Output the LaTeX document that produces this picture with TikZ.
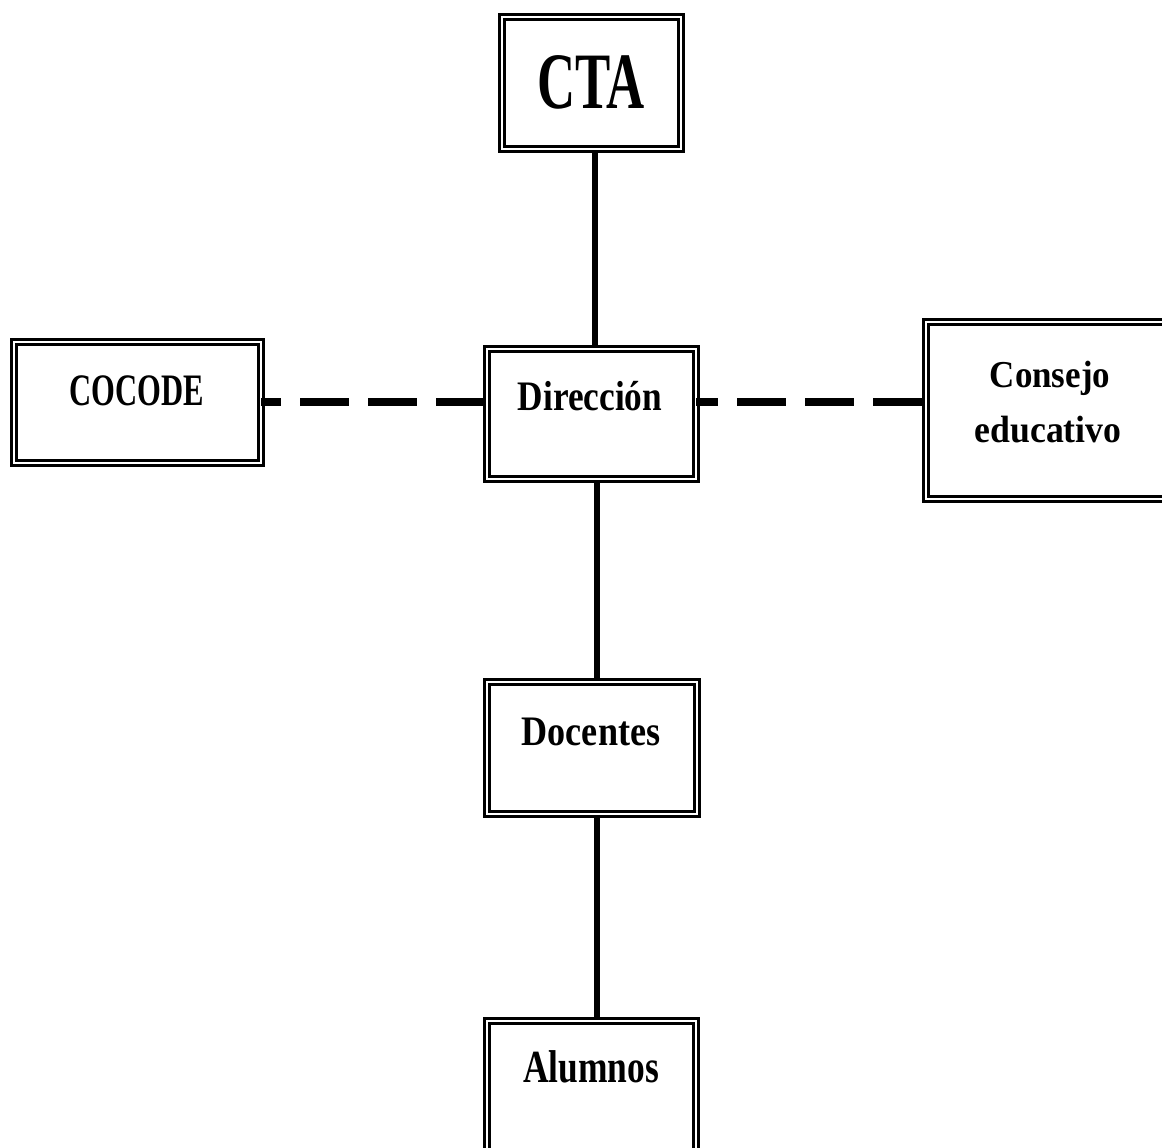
\documentclass[tikz,border=0pt]{standalone}
\usepackage{fontspec}
\setmainfont{Liberation Serif}
\usetikzlibrary{backgrounds}
\newcommand{\boxtext}[3]{{\fontsize{#1}{#1}\selectfont\bfseries\scalebox{#2}[1]{#3}}}
\tikzset{
  orgbox/.style={draw=black, double=white, line width=2.8pt, double distance=2.4pt,
    fill=white, inner sep=0pt, outer sep=0pt, minimum width=#1},
  orgbox/.default=200pt,
  lbl/.style={anchor=base, inner sep=0pt, outer sep=0pt, text=black},
  solidlink/.style={line width=6pt, black},
  dashlink/.style={line width=7.5pt, black, dash pattern=on 49pt off 19pt}
}
\begin{document}
\begin{tikzpicture}[x=1pt, y=-1pt]
\useasboundingbox (0,0) rectangle (1162,1148);
\clip (0,0) rectangle (1162,1148);

\node[orgbox=179pt, minimum height=132pt] (cta) at (591.5,83) {};
\node[orgbox=247pt, minimum height=121pt] (coc) at (137.5,402.5) {};
\node[orgbox=209pt, minimum height=130pt] (dir) at (591.5,414) {};
\node[orgbox=245pt, minimum height=177pt] (cons) at (1048.5,410.5) {};
\node[orgbox=210pt, minimum height=132pt] (doc) at (592,748) {};
\node[orgbox=209pt, minimum height=135pt] (alu) at (591.5,1088.5) {};

\node[lbl] (tcta) at (591,108) {\boxtext{80}{0.66}{CTA}};
\node[lbl] (tcoc) at (137,405) {\boxtext{45}{0.68}{COCODE}};
\node[lbl] (tdir) at (590,410) {\boxtext{42}{0.84}{Dirección}};
\node[lbl] (tcons1) at (1050,387) {\boxtext{38}{0.92}{Consejo}};
\node[lbl] (tcons2) at (1048,442) {\boxtext{38}{0.94}{educativo}};
\node[lbl] (tdoc) at (591,745) {\boxtext{42}{0.86}{Docentes}};
\node[lbl] (talu) at (591,1082) {\boxtext{46}{0.77}{Alumnos}};

\begin{scope}[on background layer]
  \fill[white] (0,0) rectangle (1162,1148);
  \draw[solidlink] ([xshift=3pt]cta.center) -- ([xshift=3pt]cta.center |- dir.center);
  \draw[solidlink] ([xshift=5pt]dir.center) -- ([xshift=5pt]dir.center |- doc.center);
  \draw[solidlink] ([xshift=5pt]doc.center) -- ([xshift=5pt]doc.center |- alu.center);
\end{scope}
\draw[dashlink, dash phase=29pt] ([yshift=0.5pt]coc.east) -- ([yshift=0.5pt]coc.east -| dir.west);
\draw[dashlink, dash phase=27pt] ([yshift=0.5pt]coc.east -| dir.east) -- ([yshift=0.5pt]coc.east -| cons.west);
\end{tikzpicture}
\end{document}
